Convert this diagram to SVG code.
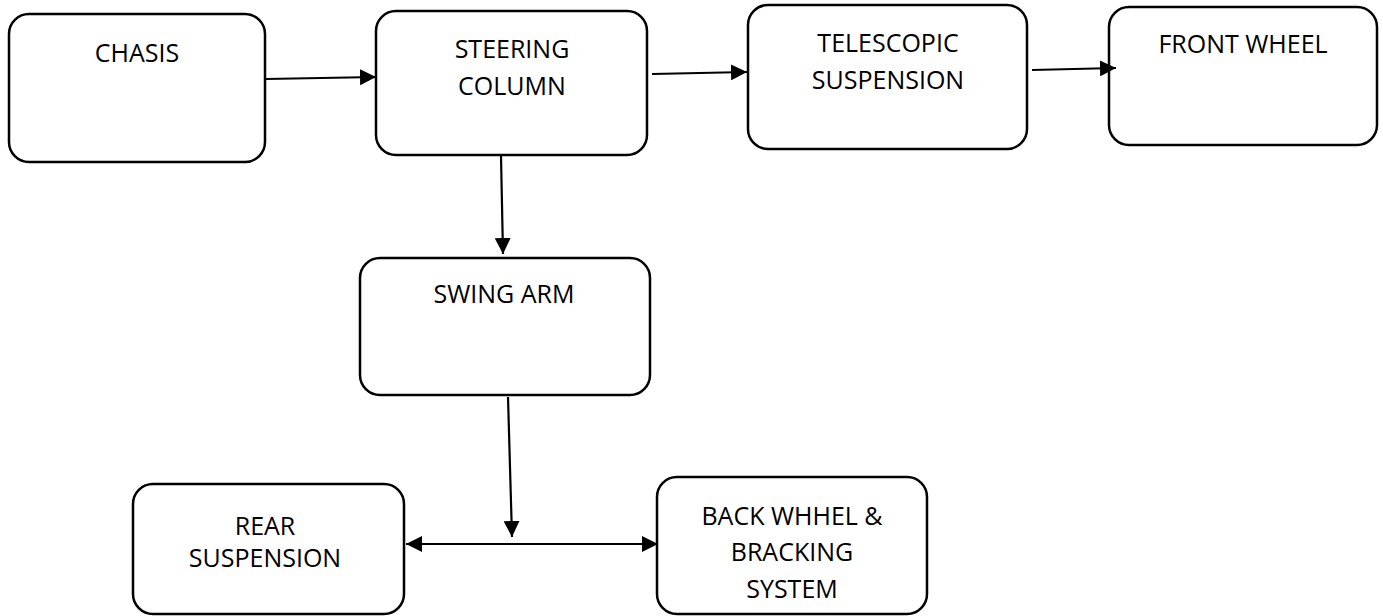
<svg xmlns="http://www.w3.org/2000/svg" width="1383" height="616" viewBox="0 0 1383 616">
<style>
.box{fill:#fff;stroke:#000;stroke-width:2.5}
.lbl{font-family:"Open Sans","Liberation Sans",sans-serif;font-size:25px;fill:#000;text-anchor:middle}
.conn{stroke:#000;stroke-width:2.2;fill:none}
</style>
<defs>
<marker id="ah" markerUnits="userSpaceOnUse" markerWidth="16" markerHeight="16" refX="15" refY="7.5" orient="auto-start-reverse" viewBox="0 0 15 15">
<path d="M0,0 L15,7.5 L0,15 z" fill="#000"/>
</marker>
</defs>
<rect width="1383" height="616" fill="#fff"/>
<g id="chasis">
<rect class="box" x="9" y="14" width="256" height="148" rx="20"/>
<text class="lbl" x="137" y="62">CHASIS</text>
</g>
<g id="steering-column">
<rect class="box" x="376" y="11" width="271" height="144" rx="20"/>
<text class="lbl" x="512" y="58">STEERING</text>
<text class="lbl" x="512" y="95">COLUMN</text>
</g>
<g id="telescopic-suspension">
<rect class="box" x="748" y="5" width="279" height="144" rx="20"/>
<text class="lbl" x="888" y="52">TELESCOPIC</text>
<text class="lbl" x="888" y="89">SUSPENSION</text>
</g>
<g id="front-wheel">
<rect class="box" x="1109" y="7" width="268" height="138" rx="20"/>
<text class="lbl" x="1243" y="53">FRONT WHEEL</text>
</g>
<g id="swing-arm">
<rect class="box" x="360" y="258" width="290" height="137" rx="20"/>
<text class="lbl" x="504" y="303">SWING ARM</text>
</g>
<g id="rear-suspension">
<rect class="box" x="133" y="484" width="271" height="130" rx="20"/>
<text class="lbl" x="265" y="535">REAR</text>
<text class="lbl" x="265" y="567">SUSPENSION</text>
</g>
<g id="back-wheel">
<rect class="box" x="657" y="477" width="270" height="137" rx="20"/>
<text class="lbl" x="792" y="525">BACK WHHEL &amp;</text>
<text class="lbl" x="792" y="561">BRACKING</text>
<text class="lbl" x="792" y="598">SYSTEM</text>
</g>
<g id="connectors">
<line class="conn" x1="266" y1="79" x2="376" y2="77" marker-end="url(#ah)"/>
<line class="conn" x1="652" y1="74" x2="747" y2="72" marker-end="url(#ah)"/>
<line class="conn" x1="1032" y1="70" x2="1116" y2="68" marker-end="url(#ah)"/>
<line class="conn" x1="501" y1="156" x2="503" y2="254" marker-end="url(#ah)"/>
<line class="conn" x1="508" y1="397" x2="512" y2="537" marker-end="url(#ah)"/>
<line class="conn" x1="406" y1="544" x2="658" y2="544" marker-start="url(#ah)" marker-end="url(#ah)"/>
</g>
</svg>
